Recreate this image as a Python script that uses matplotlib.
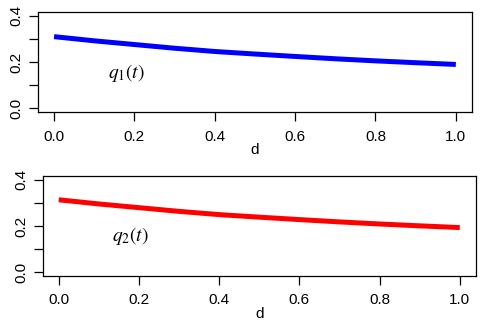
import matplotlib
matplotlib.use("Agg")
import matplotlib.pyplot as plt

plt.rcParams['font.family'] = ['Liberation Sans', 'DejaVu Sans']
plt.rcParams['mathtext.fontset'] = 'stix'

d = [0.0, 0.1, 0.2, 0.3, 0.4, 0.5, 0.6, 0.7, 0.8, 0.9, 1.0]
q1 = [0.310, 0.292, 0.276, 0.260, 0.246, 0.235, 0.2245, 0.2145, 0.2055, 0.1975, 0.190]
q2 = [0.313, 0.295, 0.279, 0.263, 0.249, 0.238, 0.2275, 0.2175, 0.2085, 0.2005, 0.193]

x_ticks = [0.0, 0.2, 0.4, 0.6, 0.8, 1.0]
x_ticklabels = ["0.0", "0.2", "0.4", "0.6", "0.8", "1.0"]
y_ticks = [0.0, 0.1, 0.2, 0.3, 0.4]
y_ticklabels = ["0.0", "", "0.2", "", "0.4"]

panels = [
    (q1, "blue", r"$q_1(t)$", [0.078, 0.657, 0.891, 0.306]),
    (q2, "red", r"$q_2(t)$", [0.0877, 0.156, 0.8893, 0.306]),
]

fig = plt.figure(figsize=(4.87, 3.27), dpi=100)

for values, color, label, rect in panels:
    ax = fig.add_axes(rect)
    ax.plot(d, values, color=color, linewidth=3.6, solid_capstyle="butt")
    ax.set_xlim(-0.04, 1.04)
    ax.set_ylim(-0.016, 0.416)
    ax.set_xticks(x_ticks)
    ax.set_xticklabels(x_ticklabels)
    ax.set_yticks(y_ticks)
    ax.set_yticklabels(y_ticklabels, rotation=90, va="center")
    ax.tick_params(direction="out", length=6.5, width=0.9, labelsize=11, pad=6)
    ax.tick_params(axis="y", pad=4)
    for s in ax.spines.values():
        s.set_linewidth(0.9)
    ax.text(0.18, 0.155, label, fontsize=14, ha="center", va="center")
    ax.text(0.5, -0.38, "d", transform=ax.transAxes, fontsize=11,
            ha="center", va="center")

fig.savefig("out.png", dpi=100)
